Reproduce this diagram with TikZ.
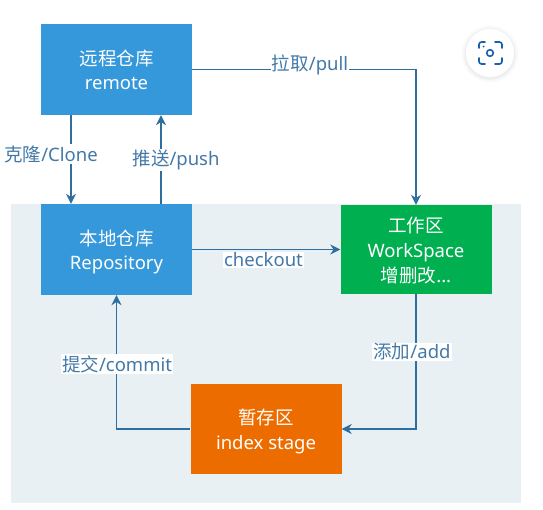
\documentclass[tikz,border=0pt]{standalone}
\usepackage{fontspec}
\usepackage{xcolor}
\setmainfont{Noto Sans}
\newfontfamily\cjk{Noto Sans CJK SC}
\usetikzlibrary{arrows.meta}

\definecolor{stageback}{HTML}{E8F0F4}
\definecolor{boxblue}{HTML}{3498DB}
\definecolor{boxgreen}{HTML}{00AF50}
\definecolor{boxorange}{HTML}{ED6C00}
\definecolor{flowline}{HTML}{2F6F9F}
\definecolor{flowtext}{HTML}{4379A8}
\definecolor{iconblue}{HTML}{1A5FB4}

\tikzset{
    areabox/.style={minimum width=151pt, minimum height=91pt, inner sep=0pt, text depth=0pt, align=center, text=white, font=\fontsize{18.5}{24.5}\selectfont},
    flow/.style={-{Stealth[length=10pt, width=10pt]}, flowline, line width=1.3pt},
    flowlabel/.style={fill=white, text=flowtext, inner xsep=1pt, inner ysep=1pt, font=\fontsize{18.5}{20}\selectfont}
}

\begin{document}
\begin{tikzpicture}[x=1pt, y=-1pt]
    \useasboundingbox (0, 0) rectangle (543, 509);

    % Stage Background
    \fill[stageback] (11, 204) rectangle (521, 503);

    % Boxes
    \node[areabox, fill=boxblue] (remote) at (116.5, 69.5) {{\cjk 远程仓库}\\remote};
    \node[areabox, fill=boxblue] (local) at (116.5, 249.5) {{\cjk 本地仓库}\\Repository};
    \node[areabox, fill=boxgreen, minimum height=89pt, font=\fontsize{18.5}{25}\selectfont] (work) at (416, 249.5) {{\cjk 工作区}\\WorkSpace\\{\cjk 增删改}...};
    \node[areabox, fill=boxorange, minimum height=90pt] (index) at (266, 429) {{\cjk 暂存区}\\index stage};

    % Flows
    \draw[flow] ([xshift=-45.5pt]remote.south) -- ([xshift=-45.5pt]local.north);
    \draw[flow] ([xshift=44.5pt]local.north) -- ([xshift=44.5pt]remote.south);
    \draw[flow] (remote.east) -| (work.north);
    \draw[flow] (local.east) -- (work.west);
    \draw[flow] (work.south) |- (index.east);
    \draw[flow] (index.west) -| (local.south);

    % Flow Labels
    \node[flowlabel] (clone) at (51, 154) {{\cjk 克隆}/Clone};
    \node[flowlabel] (push) at (176, 160) {{\cjk 推送}/push};
    \node[flowlabel] (pull) at (310, 65) {{\cjk 拉取}/pull};
    \node[flowlabel] (checkout) at (263.5, 260) {checkout};
    \node[flowlabel] (add) at (412, 352) {{\cjk 添加}/add};
    \node[flowlabel] (commit) at (117, 364) {{\cjk 提交}/commit};

    % Camera Icon
    \foreach \r/\o in {29/0.008, 28/0.01, 27/0.012, 26/0.015, 25/0.02} {
        \fill[black, opacity=\o] (490, 54) circle (\r);
    }
    \fill[white] (490, 53) circle (24);
    \draw[iconblue, line width=1.6pt, rounded corners=2.5pt, line cap=round]
        (479, 48) -- (479, 42) -- (485, 42)
        (495, 42) -- (502, 42) -- (502, 48)
        (502, 58) -- (502, 64) -- (495, 64)
        (485, 64) -- (479, 64) -- (479, 58);
    \draw[iconblue, line width=1.6pt] (490, 53) circle (3.3);
    \fill[iconblue] (483.5, 46.5) circle (1);
\end{tikzpicture}
\end{document}
